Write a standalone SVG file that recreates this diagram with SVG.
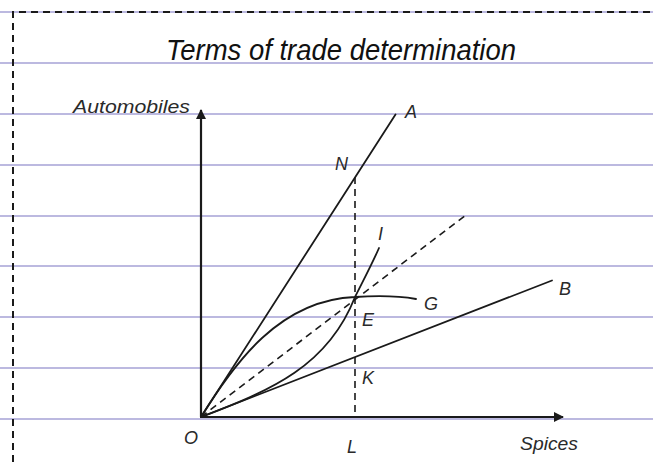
<svg xmlns="http://www.w3.org/2000/svg" width="653" height="462" viewBox="0 0 653 462">
<defs>
<style>
.rule{stroke:#a6a2d6;stroke-width:1.6;fill:none}
.border{stroke:#1a1a1a;stroke-width:2;stroke-dasharray:7 5;fill:none}
.ln{stroke:#1a1a1a;stroke-width:1.8;fill:none;stroke-linecap:round}
.dash{stroke:#1a1a1a;stroke-width:1.6;stroke-dasharray:7 5;fill:none}
.axis{stroke:#1a1a1a;stroke-width:2.2;fill:none}
.lbl{font-family:"Liberation Sans","DejaVu Sans",sans-serif;font-style:italic;font-size:18px;fill:#2a2a2a}
.title{font-family:"Liberation Sans","DejaVu Sans",sans-serif;font-style:italic;font-size:29px;fill:#111}
</style>
<marker id="arr" viewBox="0 0 10 10" refX="9" refY="5" markerWidth="10" markerHeight="10" markerUnits="userSpaceOnUse" orient="auto">
<path d="M0,0 L10,5 L0,10 Z" fill="#1a1a1a"/>
</marker>
</defs>
<rect width="653" height="462" fill="#fff"/>
<g id="rules">
<line class="rule" x1="0" y1="12" x2="653" y2="12"/>
<line class="rule" x1="0" y1="63" x2="653" y2="63"/>
<line class="rule" x1="0" y1="114" x2="653" y2="114"/>
<line class="rule" x1="0" y1="165" x2="653" y2="165"/>
<line class="rule" x1="0" y1="216" x2="653" y2="216"/>
<line class="rule" x1="0" y1="266" x2="653" y2="266"/>
<line class="rule" x1="0" y1="317" x2="653" y2="317"/>
<line class="rule" x1="0" y1="368" x2="653" y2="368"/>
<line class="rule" x1="0" y1="419" x2="653" y2="419"/>
</g>
<g id="border">
<path class="border" d="M13,462 L13,12 L653,12"/>
</g>
<g id="title">
<text class="title" x="166" y="60" textLength="350" lengthAdjust="spacingAndGlyphs">Terms of trade determination</text>
</g>
<g id="connectors">
<line class="axis" x1="201" y1="417" x2="201" y2="110" marker-end="url(#arr)"/>
<line class="axis" x1="201" y1="417" x2="563" y2="417" marker-end="url(#arr)"/>
<line class="ln" x1="201" y1="417" x2="395.5" y2="114.5"/>
<line class="ln" x1="201" y1="417" x2="552" y2="280.5"/>
<line class="dash" x1="201" y1="417" x2="466" y2="215"/>
<line class="dash" x1="355" y1="177" x2="355" y2="417"/>
<path class="ln" d="M201,417 C272,390 328,366 355,297 C364,279 372,264 379,248"/>
<path class="ln" d="M201,417 C235,362 280,300 355,297 C385,295 405,297 416,299"/>
</g>
<g id="labels">
<text class="lbl" x="73" y="113" textLength="117" lengthAdjust="spacingAndGlyphs">Automobiles</text>
<text class="lbl" x="405" y="118">A</text>
<text class="lbl" x="335" y="170">N</text>
<text class="lbl" x="378" y="240">I</text>
<text class="lbl" x="559" y="295">B</text>
<text class="lbl" x="424" y="310">G</text>
<text class="lbl" x="362" y="326">E</text>
<text class="lbl" x="362" y="384">K</text>
<text class="lbl" x="184" y="444">O</text>
<text class="lbl" x="347" y="453">L</text>
<text class="lbl" x="520" y="450" textLength="58" lengthAdjust="spacingAndGlyphs">Spices</text>
</g>
</svg>
